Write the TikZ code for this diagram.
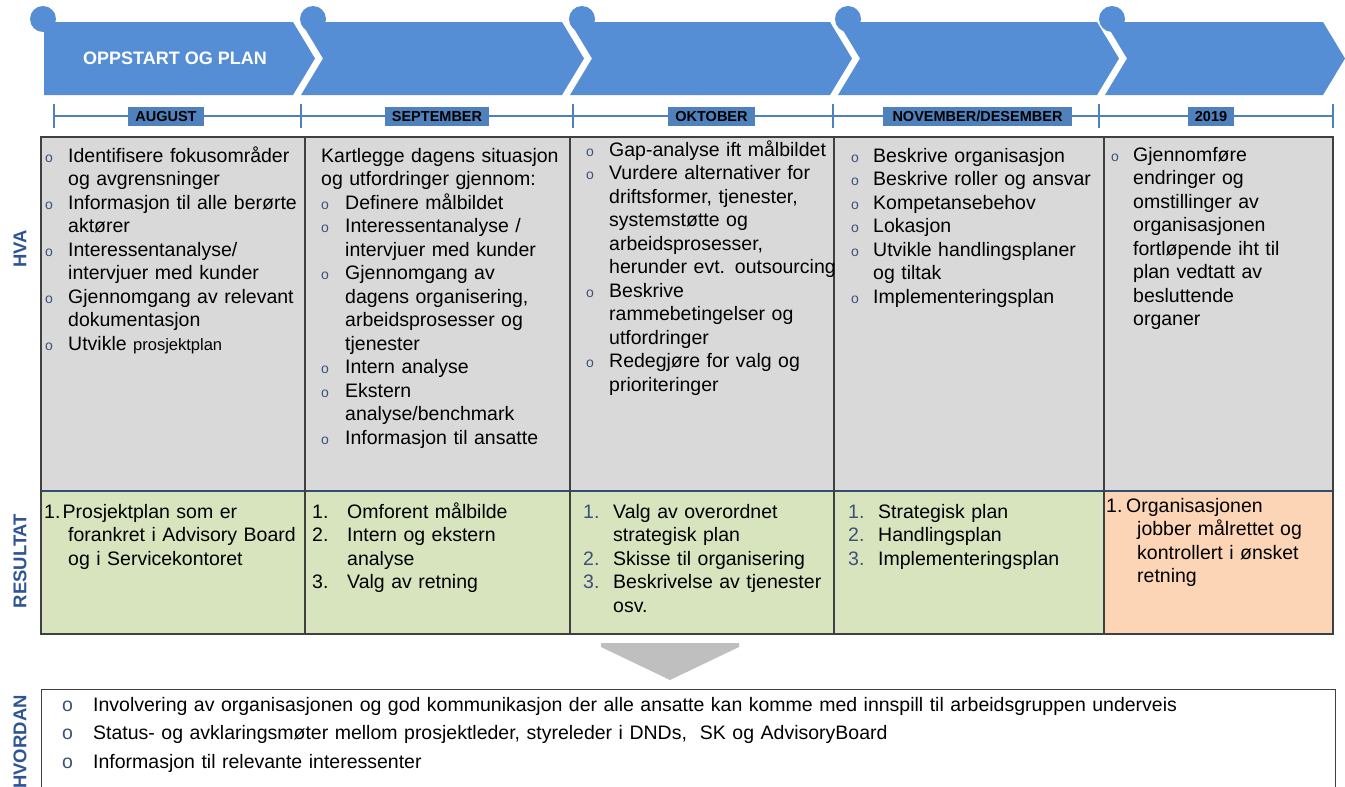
\documentclass[tikz,border=0pt]{standalone}
\usepackage{fontspec}
\setmainfont{Liberation Sans}
\usetikzlibrary{positioning}
\definecolor{phaseBlue}{RGB}{85,142,213}
\definecolor{monthBlue}{RGB}{79,129,189}
\definecolor{labelBlue}{RGB}{47,84,150}
\definecolor{bulletBlue}{RGB}{60,80,120}
\definecolor{cellGray}{RGB}{217,217,217}
\definecolor{cellGreen}{RGB}{215,228,189}
\definecolor{cellPeach}{RGB}{251,213,181}
\definecolor{gridGray}{RGB}{64,64,64}
\definecolor{arrowGray}{RGB}{191,191,191}
%% A bullet paragraph with a hanging indent.
\newcommand{\bul}[2][23pt]{\hangindent=#1\hangafter=1\noindent\hbox to #1{\textcolor{bulletBlue}{\fontsize{14}{14}\selectfont o}\hfil}#2\par}
%% The same, with the larger bullet of the how box.
\newcommand{\howItem}[1]{\hangindent=31pt\hangafter=1\noindent\hbox to 31pt{\textcolor{bulletBlue}{o}\hfil}#1\par}
%% A numbered paragraph with a hanging indent.
\newcommand{\numItem}[4][black]{\hangindent=#2\hangafter=1\noindent\hbox to #2{\textcolor{#1}{#3}\hfil}#4\par}
%% A numbered paragraph whose number sits closer than its indent.
\newcommand{\firstItem}[3]{\hangindent=#2\hangafter=1\noindent\hbox to #1{1.\hfil}#3\par}
\newcommand{\phaseStrip}{%%
  %% The five phase arrows along the top.
  \foreach \xl/\xr/\nd/\xc in {44/293/0/43, 301/562/22/313, 570/830/22/582, 838/1097/22/848, 1105/1323/22/1112}{
    \fill[phaseBlue] (\xl,22) -- (\xr,22) -- (\xr+22,58.5) -- (\xr,95) -- (\xl,95) -- (\xl+\nd,58.5) -- cycle;
    %% The knob on each arrow.
    \fill[phaseBlue] (\xc,19) circle (13pt);
  }
}
\newcommand{\monthLine}{%%
  %% The time axis with its ticks.
  \draw[axisStyle] (tick0) -- (tick5);
  \foreach \t in {0,...,5}
    \draw[axisStyle] (tick\t) ++(0,-12) -- ++(0,24);
}
\newcommand{\gridCells}{%%
  %% Cell fills of the two rows.
  \fill[cellGray] (41,137) rectangle (1333,491);
  \fill[cellGreen] (41,491) rectangle (1104,634);
  \fill[cellPeach] (1104,491) rectangle (1333,634);
  %% The grid lines.
  \draw[rowLine] (41,491) -- (1333,491);
  \draw[gridLine] (41,137) rectangle (1333,634);
  \foreach \x in {305,570,834,1104}
    \draw[gridLine] (\x,137) -- (\x,634);
}

\begin{document}
\begin{tikzpicture}[%%
  x=1pt,y=-1pt,%%
  axisStyle/.style={-,monthBlue,line width=2.2pt},%%
  gridLine/.style={gridGray,line width=1.3pt},%%
  rowLine/.style={monthBlue!60!black,line width=1.3pt},%%
  monthBox/.style={fill=monthBlue,inner sep=0pt,minimum height=19,text height=10.5pt,text depth=0pt,text=black,font=\fontsize{14.5}{15}\selectfont\bfseries},%%
  titleText/.style={text=white,font=\fontsize{18}{20}\selectfont\bfseries},%%
  rowLabel/.style={rotate=90,text=labelBlue,font=\fontsize{18.5}{20}\selectfont\bfseries},%%
  cellText/.style={anchor=base west,inner sep=0pt,text width=258,align=left,font=\fontsize{19.5}{23.5}\selectfont},%%
  howText/.style={anchor=base west,inner sep=0pt,text width=1260,align=left,font=\fontsize{19.5}{28.5}\selectfont},%%
]
\useasboundingbox (0,0) rectangle (1345,787);
%%
%% Phases and months.
\phaseStrip
\node[titleText] (phaseOne) at (175,58) {OPPSTART OG PLAN};
\coordinate (tick0) at (54,116);
\coordinate (tick1) at (301,116);
\coordinate (tick2) at (573,116);
\coordinate (tick3) at (833,116);
\coordinate (tick4) at (1099,116);
\coordinate (tick5) at (1333,116);
\monthLine
\node[monthBox,minimum width=76] (aug) at (166,116) {AUGUST};
\node[monthBox,minimum width=104] (sep) at (437,116) {SEPTEMBER};
\node[monthBox,minimum width=87] (okt) at (711.5,116) {OKTOBER};
\node[monthBox,minimum width=189] (novdes) at (977.5,116) {NOVEMBER/DESEMBER};
\node[monthBox,minimum width=46] (aar) at (1211,116) {2019};
%%
%% The table.
\gridCells
\node[rowLabel] (hva) at (20,249) {HVA};
\node[rowLabel] (resultat) at (20,561) {RESULTAT};
\node[rowLabel] (hvordan) at (20,742) {HVORDAN};
%%
%% What, column by column.
\node[cellText] (hvaAug) at (45,162) {%%
  \bul{Identifisere fokusområder\newline og avgrensninger}%%
  \bul{Informasjon til alle berørte\newline aktører}%%
  \bul{Interessentanalyse/\newline intervjuer med kunder}%%
  \bul{Gjennomgang av relevant\newline dokumentasjon}%%
  \bul{Utvikle {\fontsize{16.5}{23.5}\selectfont prosjektplan}}};
\node[cellText] (hvaSep) at (321,162) {%%
  Kartlegge dagens situasjon\newline og utfordringer gjennom:\par
  \bul[24pt]{Definere målbildet}%%
  \bul[24pt]{Interessentanalyse /\newline intervjuer med kunder}%%
  \bul[24pt]{Gjennomgang av\newline dagens organisering,\newline arbeidsprosesser og\newline tjenester}%%
  \bul[24pt]{Intern analyse}%%
  \bul[24pt]{Ekstern\newline analyse/benchmark}%%
  \bul[24pt]{Informasjon til ansatte}};
\node[cellText] (hvaOkt) at (586,156) {%%
  \bul{Gap-analyse ift målbildet}%%
  \bul{Vurdere alternativer for\newline driftsformer, tjenester,\newline systemstøtte og\newline arbeidsprosesser,\newline herunder evt. outsourcing}%%
  \bul{Beskrive\newline rammebetingelser og\newline utfordringer}%%
  \bul{Redegjøre for valg og\newline prioriteringer}};
\node[cellText] (hvaNov) at (851,162) {%%
  \bul[22pt]{Beskrive organisasjon}%%
  \bul[22pt]{Beskrive roller og ansvar}%%
  \bul[22pt]{Kompetansebehov}%%
  \bul[22pt]{Lokasjon}%%
  \bul[22pt]{Utvikle handlingsplaner\newline og tiltak}%%
  \bul[22pt]{Implementeringsplan}};
\node[cellText,text width=215] (hvaAar) at (1111,161) {%%
  \bul[22pt]{Gjennomføre\newline endringer og\newline omstillinger av\newline organisasjonen\newline fortløpende iht til\newline plan vedtatt av\newline besluttende\newline organer}};
%%
%% Results, column by column.
\node[cellText] (resAug) at (44,518) {%%
  \firstItem{18.5pt}{24pt}{Prosjektplan som er\newline forankret i Advisory Board\newline og i Servicekontoret}};
\node[cellText] (resSep) at (312,518) {%%
  \numItem{35pt}{1.}{Omforent målbilde}%%
  \numItem{35pt}{2.}{Intern og ekstern\newline analyse}%%
  \numItem{35pt}{3.}{Valg av retning}};
\node[cellText] (resOkt) at (583,518) {%%
  \numItem[bulletBlue]{30pt}{1.}{Valg av overordnet\newline strategisk plan}%%
  \numItem[bulletBlue]{30pt}{2.}{Skisse til organisering}%%
  \numItem[bulletBlue]{30pt}{3.}{Beskrivelse av tjenester\newline osv.}};
\node[cellText] (resNov) at (848,518) {%%
  \numItem[bulletBlue]{30pt}{1.}{Strategisk plan}%%
  \numItem[bulletBlue]{30pt}{2.}{Handlingsplan}%%
  \numItem[bulletBlue]{30pt}{3.}{Implementeringsplan}};
\node[cellText,text width=225] (resAar) at (1106,512) {%%
  \firstItem{20pt}{31pt}{Organisasjonen\newline jobber målrettet og\newline kontrollert i ønsket\newline retning}};
%%
%% Down arrow and the how box.
\fill[arrowGray] (601,643) -- (739,643) -- (739,647) -- (670,680) -- (601,647) -- cycle;
\draw[gridLine,line width=1pt] (41,800) -- (41,689) -- (1335,689) -- (1335,800);
\node[howText] (hvordanText) at (62,711) {%%
  \howItem{Involvering av organisasjonen og god kommunikasjon der alle ansatte kan komme med innspill til arbeidsgruppen underveis}%%
  \howItem{Status- og avklaringsmøter mellom prosjektleder, styreleder i DNDs,\ \ SK og AdvisoryBoard}%%
  \howItem{Informasjon til relevante interessenter}};
\end{tikzpicture}
\end{document}
